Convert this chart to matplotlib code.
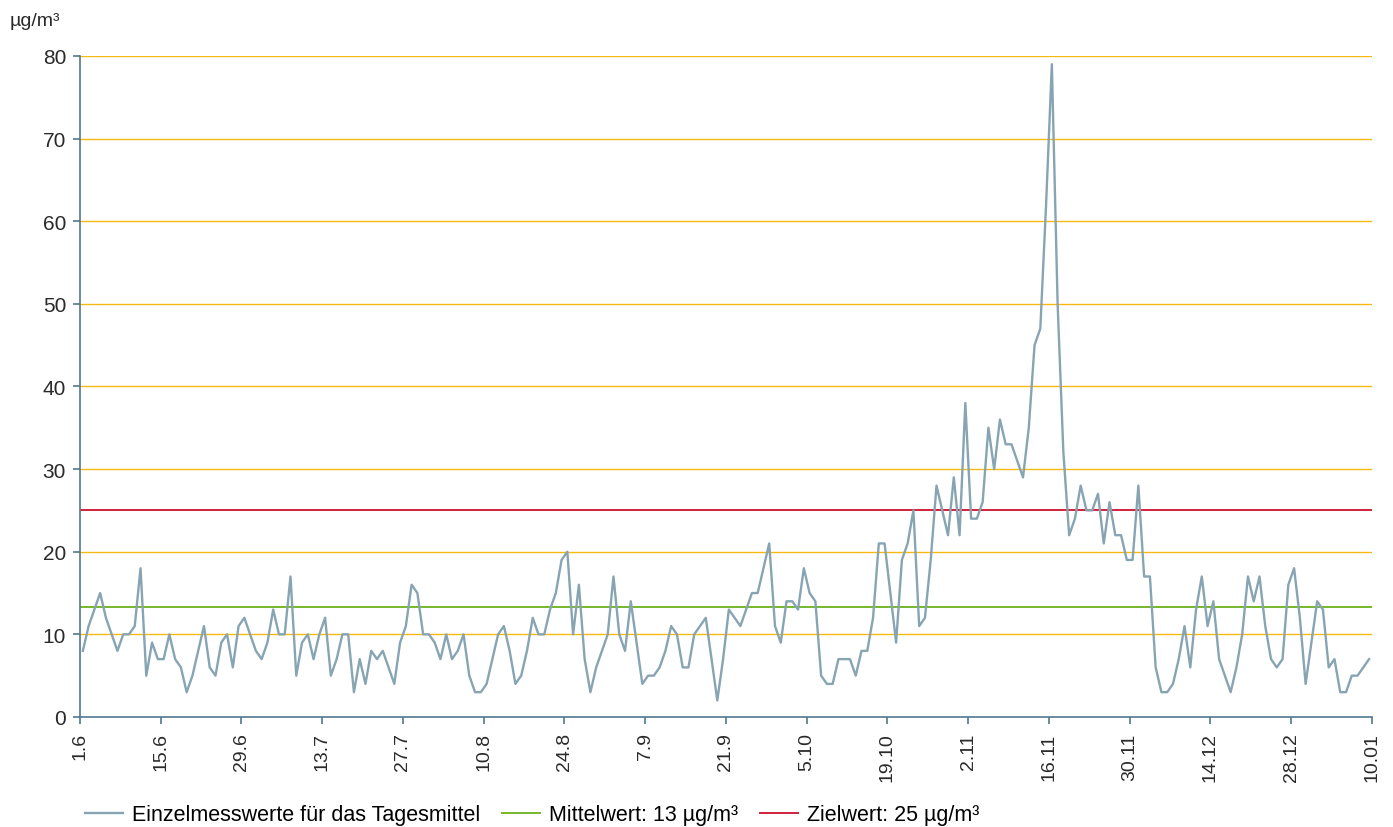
import numpy as np
import matplotlib.pyplot as plt

# daily means PM (µg/m³), 1.6 – 10.01
values = [
    8, 11, 13, 15, 12, 10, 8, 10, 10, 11,
    18, 5, 9, 7, 7, 10, 7, 6, 3, 5,
    8, 11, 6, 5, 9, 10, 6, 11, 12, 10,
    8, 7, 9, 13, 10, 10, 17, 5, 9, 10,
    7, 10, 12, 5, 7, 10, 10, 3, 7, 4,
    8, 7, 8, 6, 4, 9, 11, 16, 15, 10,
    10, 9, 7, 10, 7, 8, 10, 5, 3, 3,
    4, 7, 10, 11, 8, 4, 5, 8, 12, 10,
    10, 13, 15, 19, 20, 10, 16, 7, 3, 6,
    8, 10, 17, 10, 8, 14, 9, 4, 5, 5,
    6, 8, 11, 10, 6, 6, 10, 11, 12, 7,
    2, 7, 13, 12, 11, 13, 15, 15, 18, 21,
    11, 9, 14, 14, 13, 18, 15, 14, 5, 4,
    4, 7, 7, 7, 5, 8, 8, 12, 21, 21,
    15, 9, 19, 21, 25, 11, 12, 19, 28, 25,
    22, 29, 22, 38, 24, 24, 26, 35, 30, 36,
    33, 33, 31, 29, 35, 45, 47, 62, 79, 50,
    32, 22, 24, 28, 25, 25, 27, 21, 26, 22,
    22, 19, 19, 28, 17, 17, 6, 3, 3, 4,
    7, 11, 6, 13, 17, 11, 14, 7, 5, 3,
    6, 10, 17, 14, 17, 11, 7, 6, 7, 16,
    18, 12, 4, 9, 14, 13, 6, 7, 3, 3,
    5, 5, 6, 7,
]
tick_labels = ["1.6", "15.6", "29.6", "13.7", "27.7", "10.8", "24.8", "7.9",
               "21.9", "5.10", "19.10", "2.11", "16.11", "30.11", "14.12",
               "28.12", "10.01"]
mean_value = 13.3
target_value = 25

plt.rcParams['font.family'] = ['Liberation Sans', 'DejaVu Sans']

line_col = '#87a4b3'
grid_col = '#f5b914'
axis_col = '#4f7a90'
text_col = '#2a2a2a'

fig = plt.figure(figsize=(13.93, 8.28), dpi=100)
ax = fig.add_axes([0.0574, 0.1329, 0.9275, 0.7983])

x = np.arange(len(values)) + 0.5
n = len(values)

for yv in range(10, 90, 10):
    ax.axhline(yv, color=grid_col, lw=1.0, zorder=1)

ax.plot(x, values, color=line_col, lw=1.7, zorder=3,
        label="Einzelmesswerte für das Tagesmittel")
ax.axhline(mean_value, color='#76b82a', lw=1.4, zorder=2,
           label="Mittelwert: 13 µg/m³")
ax.axhline(target_value, color='#d0213c', lw=1.4, zorder=2,
           label="Zielwert: 25 µg/m³")

ax.set_xlim(0, n)
ax.set_ylim(0, 80)
ax.set_yticks(range(0, 90, 10))
ax.set_xticks(np.arange(0, n + 1, 14))
ax.set_xticklabels(tick_labels, rotation=90)

for s in ['top', 'right']:
    ax.spines[s].set_visible(False)
for s in ['left', 'bottom']:
    ax.spines[s].set_color(axis_col)
    ax.spines[s].set_linewidth(1.2)
ax.tick_params(axis='both', colors=axis_col, labelcolor=text_col,
               length=5, width=1.2)
ax.tick_params(axis='y', labelsize=15, pad=5)
ax.tick_params(axis='x', labelsize=14, pad=6)

fig.text(0.007, 0.974, "µg/m³", fontsize=14, color=text_col, va='center')

fig.legend(loc='center left', bbox_to_anchor=(0.061, 0.0145), ncol=3,
           frameon=False, fontsize=15.5, handlelength=1.75,
           handletextpad=0.45, columnspacing=1.0,
           borderaxespad=0, borderpad=0)

fig.savefig("out.png", dpi=100)
